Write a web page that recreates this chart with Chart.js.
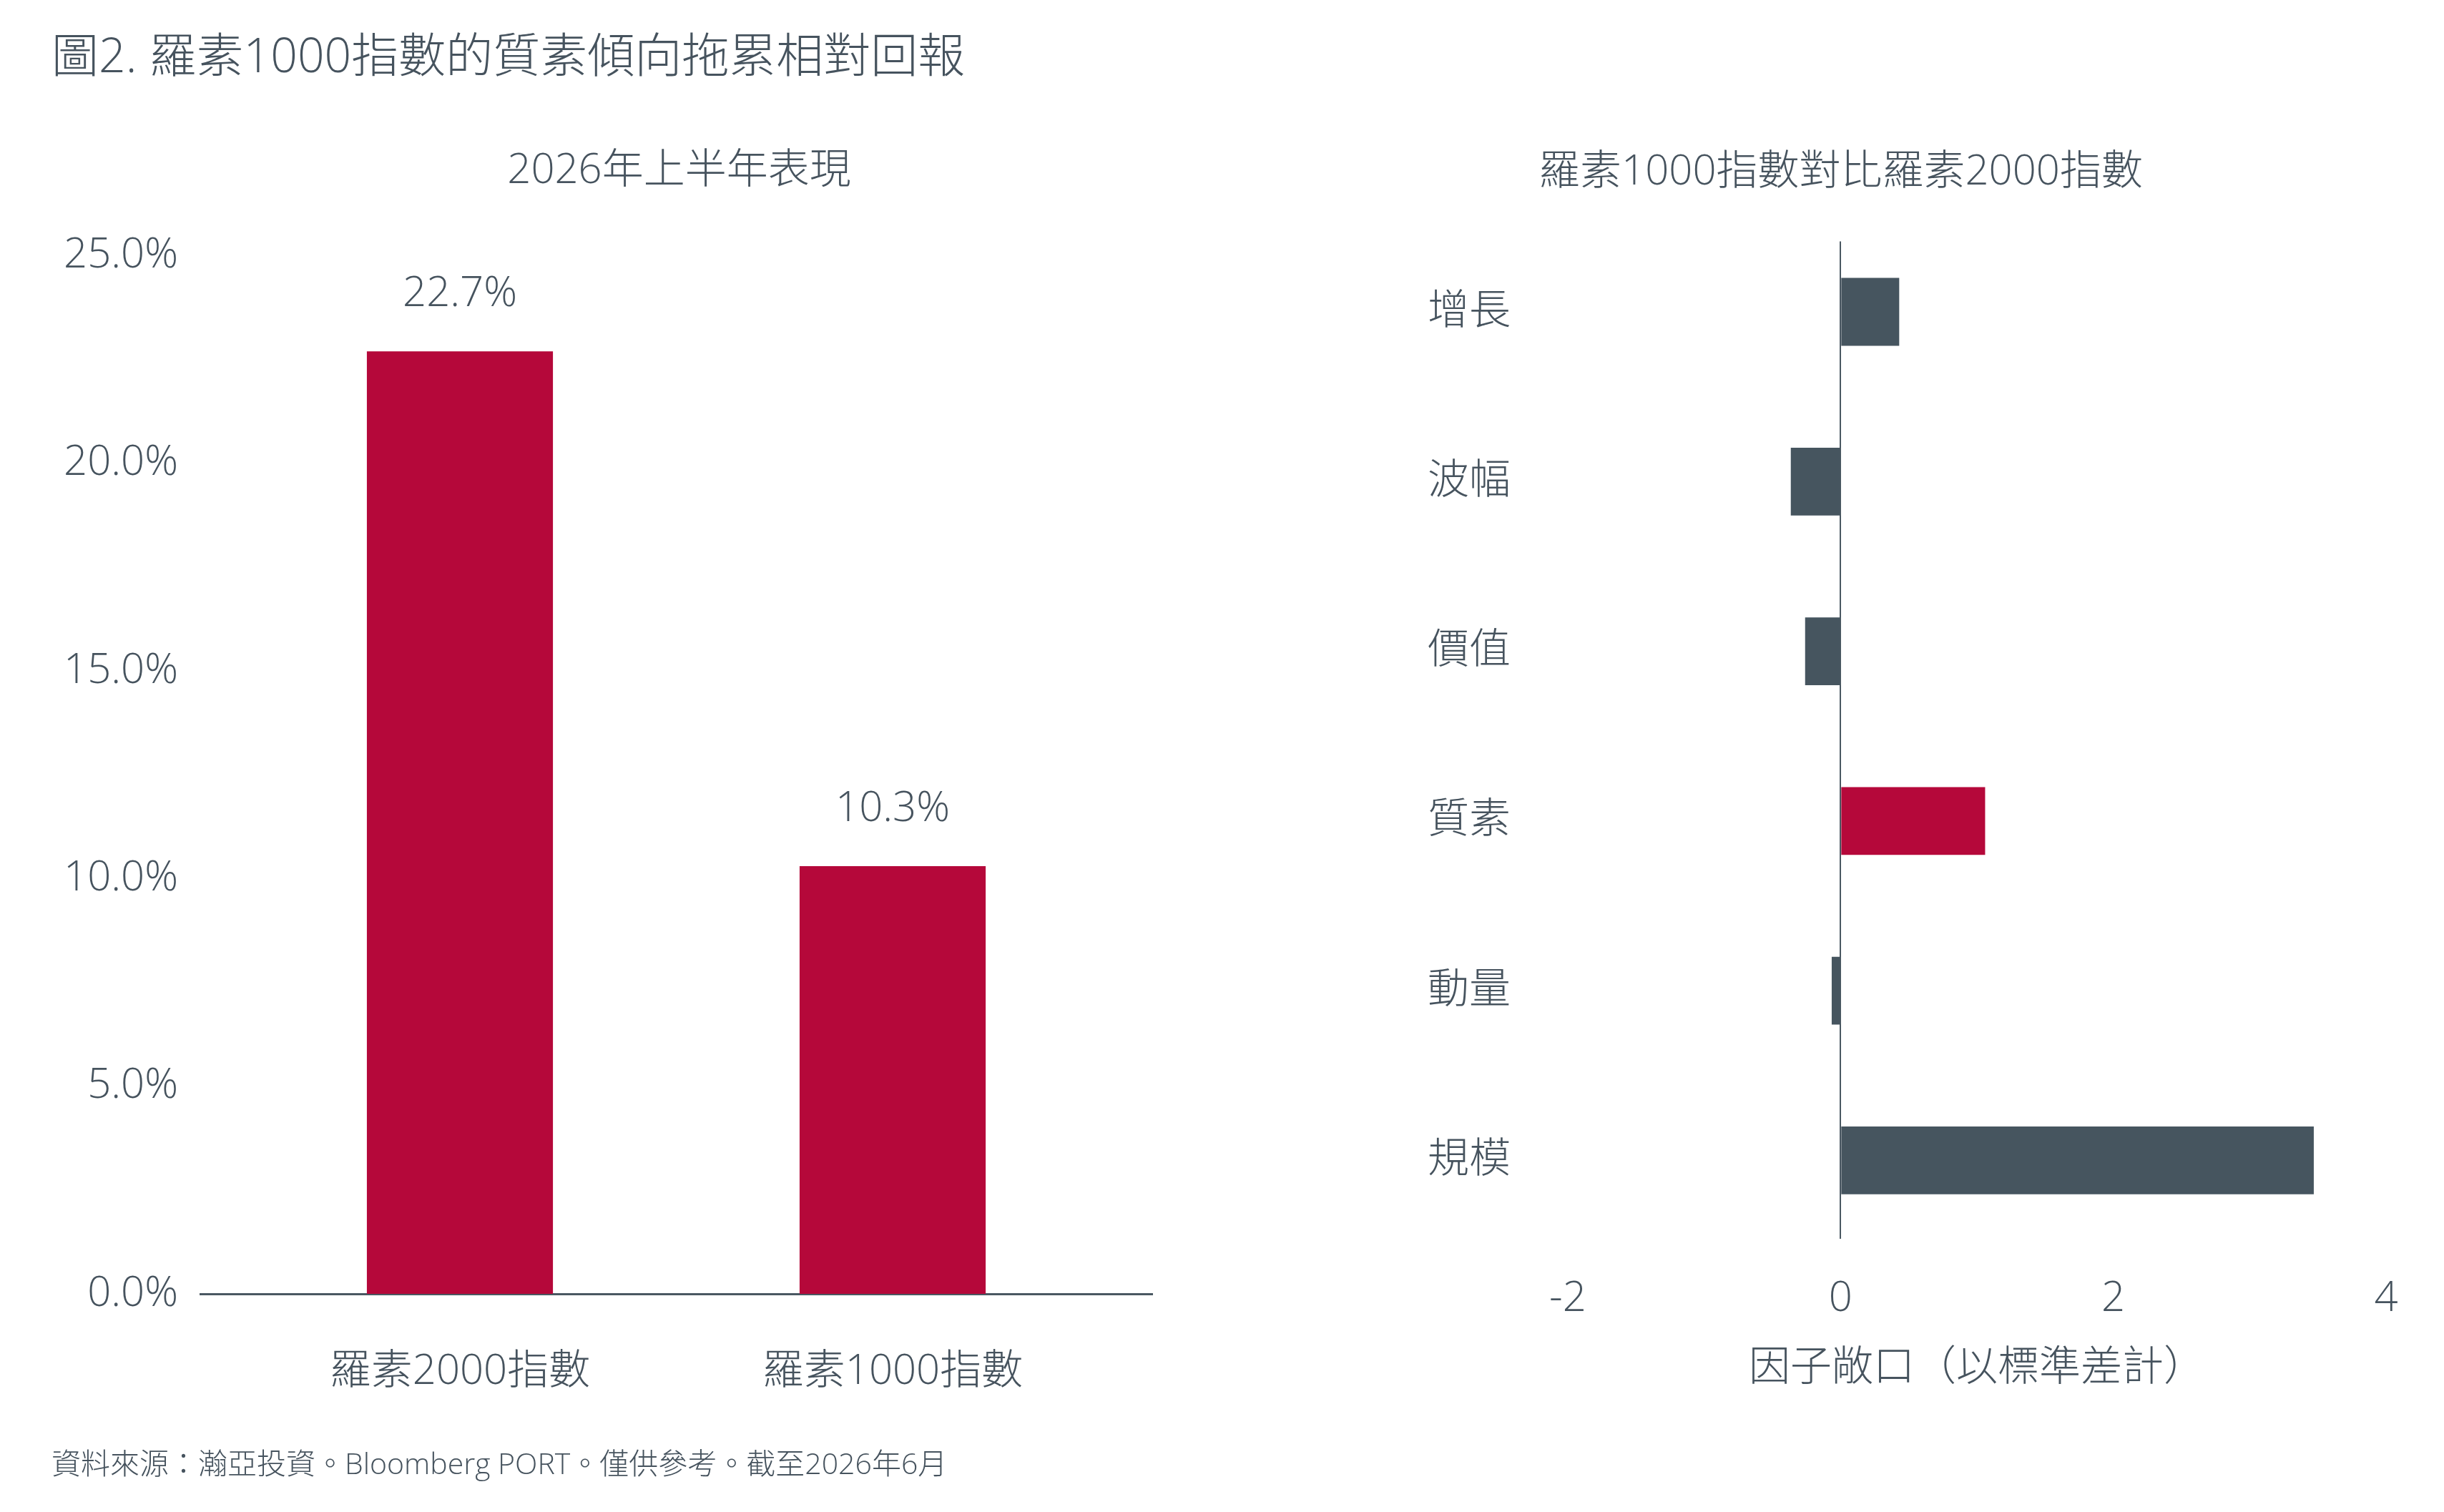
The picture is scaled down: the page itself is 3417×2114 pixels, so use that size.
<!DOCTYPE html>
<html>
<head>
<meta charset="utf-8">
<script src="https://cdn.jsdelivr.net/npm/chart.js@4.4.1/dist/chart.umd.min.js"></script>
<style>
html,body{margin:0;padding:0;background:#ffffff;}
body{width:3417px;height:2114px;position:relative;overflow:hidden;font-family:"Open Sans","Noto Sans CJK TC",sans-serif;font-weight:300;color:#46535e;}
#title{position:absolute;left:72px;top:42px;font-size:66px;line-height:66px;white-space:nowrap;}
#footer{position:absolute;left:72px;top:2025px;font-size:41px;line-height:41px;white-space:nowrap;}
canvas{position:absolute;top:0;}
#c1{left:0;width:1899px;height:2114px;}
#c2{left:1811px;width:1606px;height:2114px;}
</style>
</head>
<body>
<div id="title">圖2. 羅素1000指數的質素傾向拖累相對回報</div>
<canvas id="c1" width="1899" height="2114"></canvas>
<canvas id="c2" width="1606" height="2114"></canvas>
<div id="footer">資料來源：瀚亞投資。Bloomberg PORT。僅供參考。截至2026年6月</div>
<script>
// ---- data ----
const leftTitle = '2026年上半年表現';
const leftCategories = ['羅素2000指數', '羅素1000指數'];
const leftValues = [22.7, 10.3];
const leftTicks = [0, 5, 10, 15, 20, 25];

const rightTitle = '羅素1000指數對比羅素2000指數';
const rightCategories = ['增長', '波幅', '價值', '質素', '動量', '規模'];
const rightValues = [0.43, -0.365, -0.26, 1.06, -0.065, 3.47];
const rightTicks = [-2, 0, 2, 4];
const rightAxisTitle = '因子敞口（以標準差計）';
const highlightCategory = '質素';

// ---- styles ----
const FONT = '"Open Sans", "Noto Sans CJK TC", sans-serif';
const TEXT = '#46535e';
const RED = '#b5083a';
const GRAY = '#46555f';
const AXIS = '#4a5862';

Chart.defaults.font.family = FONT;
Chart.defaults.font.weight = '300';
Chart.defaults.color = TEXT;

const f58 = {size: 58, weight: '300', family: FONT};

const valueLabels = {
  id: 'valueLabels',
  afterDatasetsDraw(chart) {
    const ctx = chart.ctx;
    const meta = chart.getDatasetMeta(0);
    ctx.save();
    ctx.font = '300 58px ' + FONT;
    ctx.fillStyle = TEXT;
    ctx.textAlign = 'center';
    ctx.textBaseline = 'middle';
    meta.data.forEach((bar, i) => {
      ctx.fillText(leftValues[i].toFixed(1) + '%', bar.x, bar.y - 80);
    });
    ctx.restore();
  }
};

new Chart(document.getElementById('c1'), {
  type: 'bar',
  data: {
    datasets: [{
      data: leftValues.map((v, i) => ({x: i, y: v})),
      backgroundColor: RED,
      borderWidth: 0,
      barPercentage: 0.43,
      categoryPercentage: 1.0
    }]
  },
  options: {
    responsive: false,
    animation: false,
    devicePixelRatio: 1,
    layout: {padding: {left: 0, right: 0, top: 0, bottom: 0}},
    plugins: {
      legend: {display: false},
      tooltip: {enabled: false},
      title: {
        display: true,
        text: leftTitle,
        color: TEXT,
        font: f58,
        padding: {top: 205, bottom: 83}
      }
    },
    scales: {
      x: {
        type: 'linear',
        offset: false,
        min: -0.6,
        max: 1.6,
        afterBuildTicks: s => { s.ticks = leftCategories.map((_, i) => ({value: i})); },
        afterFit: s => { s.height = 2114 - 1809; },
        ticks: {
          callback: v => leftCategories[v],
          font: f58,
          color: TEXT,
          padding: 75,
          maxRotation: 0,
          autoSkip: false
        },
        grid: {display: false, drawTicks: false, offset: false},
        border: {display: true, color: AXIS, width: 3}
      },
      y: {
        min: 0,
        max: 25,
        afterBuildTicks: s => { s.ticks = leftTicks.map(v => ({value: v})); },
        afterFit: s => { s.width = 280; },
        ticks: {
          callback: v => Number(v).toFixed(1) + '%',
          font: f58,
          color: TEXT,
          padding: 31
        },
        grid: {display: false, drawTicks: false},
        border: {display: false}
      },
      yr: {
        position: 'right',
        min: 0,
        max: 25,
        afterFit: s => { s.width = 1899 - 1611; },
        ticks: {display: false},
        grid: {display: false, drawTicks: false},
        border: {display: false}
      }
    }
  },
  plugins: [valueLabels]
});

new Chart(document.getElementById('c2'), {
  type: 'bar',
  data: {
    datasets: [{
      data: rightValues.map((v, i) => ({x: v, y: i})),
      backgroundColor: rightCategories.map(c => c === highlightCategory ? RED : GRAY),
      borderWidth: 0,
      barPercentage: 0.4,
      categoryPercentage: 1.0
    }]
  },
  options: {
    indexAxis: 'y',
    responsive: false,
    animation: false,
    devicePixelRatio: 1,
    layout: {padding: {left: 0, right: 81, top: 0, bottom: 0}},
    plugins: {
      legend: {display: false},
      tooltip: {enabled: false},
      title: {
        display: true,
        text: rightTitle,
        color: TEXT,
        font: f58,
        padding: {top: 207, bottom: 61}
      }
    },
    scales: {
      x: {
        type: 'linear',
        min: -2,
        max: 4,
        afterBuildTicks: s => { s.ticks = rightTicks.map(v => ({value: v})); },
        afterFit: s => { s.height = 2114 - 1732; },
        ticks: {font: f58, color: TEXT, padding: 50},
        grid: {
          display: true,
          drawTicks: false,
          color: c => (c.tick && c.tick.value === 0) ? AXIS : 'rgba(0,0,0,0)',
          lineWidth: 2
        },
        border: {display: false},
        title: {
          display: true,
          text: rightAxisTitle,
          color: TEXT,
          font: f58,
          padding: {top: 30, bottom: 166}
        }
      },
      y: {
        type: 'linear',
        reverse: true,
        offset: false,
        min: -0.415,
        max: 5.462,
        afterBuildTicks: s => { s.ticks = rightCategories.map((_, i) => ({value: i})); },
        afterFit: s => { s.width = 2192 - 1811; },
        ticks: {
          callback: v => rightCategories[v],
          font: f58,
          color: TEXT,
          padding: 80,
          autoSkip: false
        },
        grid: {display: false, drawTicks: false},
        border: {display: false}
      }
    }
  }
});
</script>
</body>
</html>
